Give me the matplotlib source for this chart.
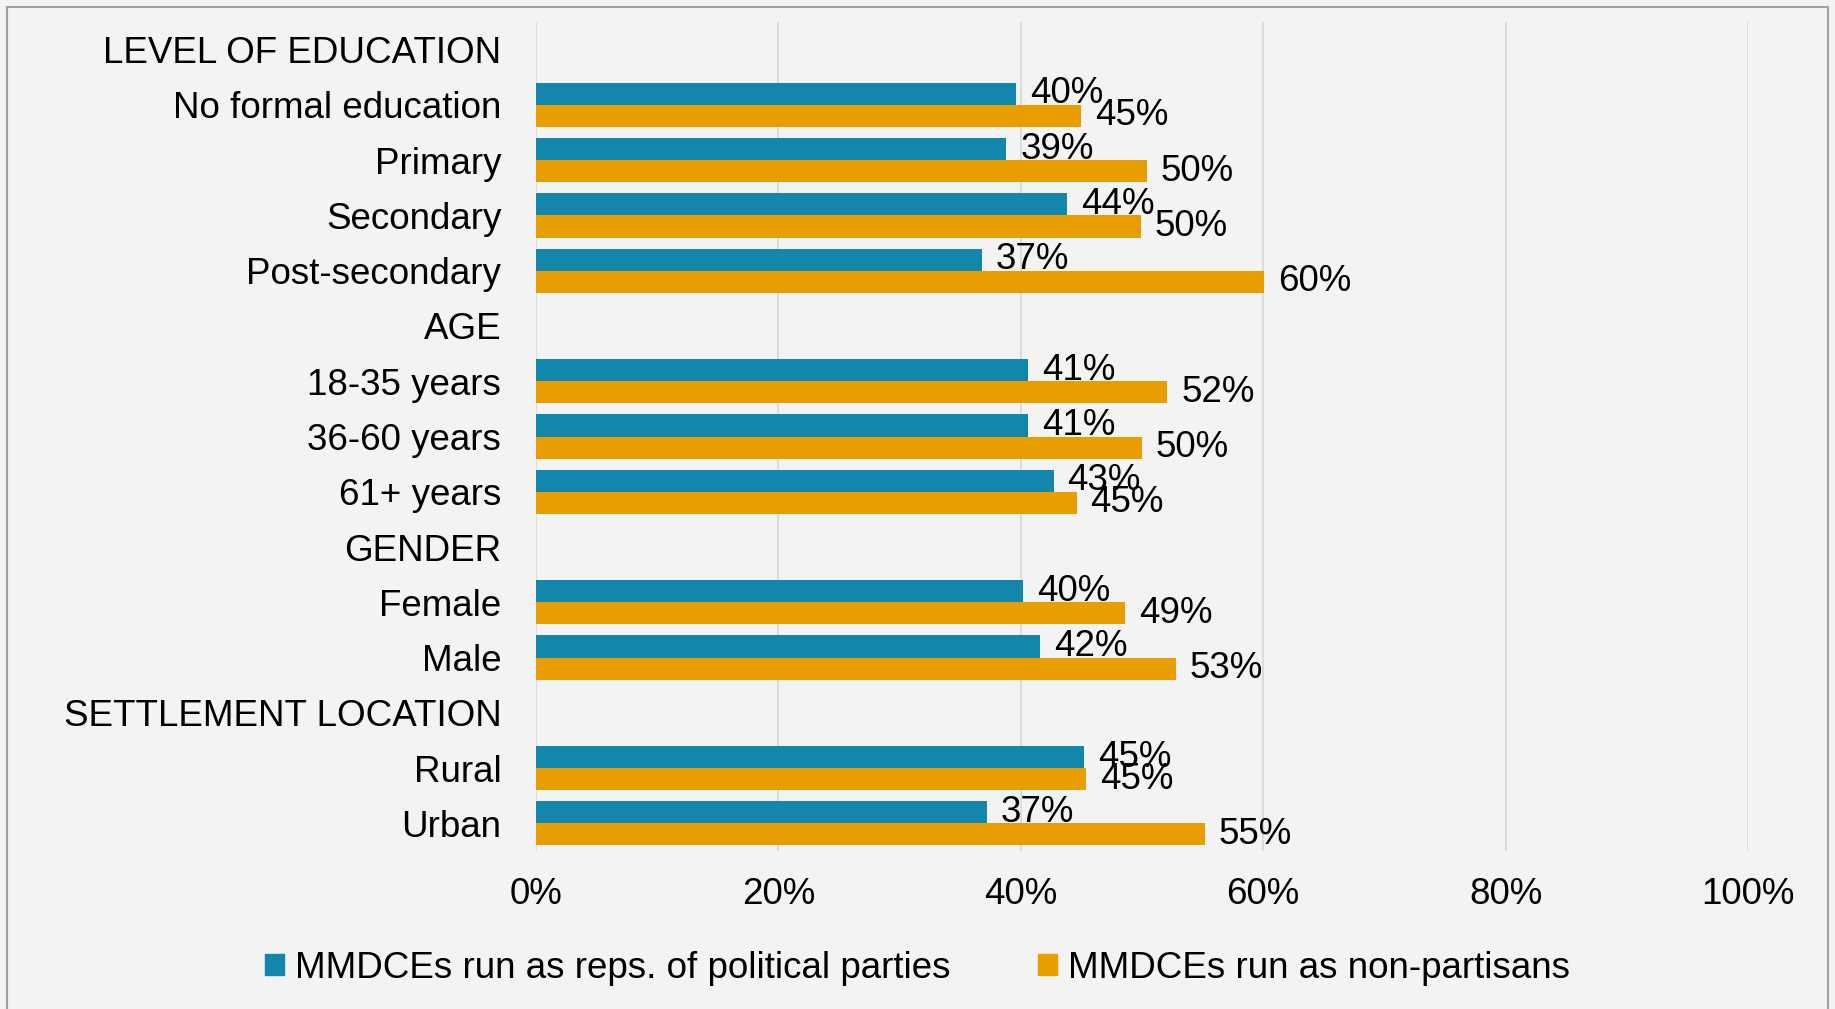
import matplotlib.pyplot as plt
from matplotlib.patches import Rectangle, Patch

plt.rcParams['font.family'] = ['Liberation Sans', 'DejaVu Sans']

rows = ["LEVEL OF EDUCATION", "No formal education", "Primary", "Secondary",
        "Post-secondary", "AGE", "18-35 years", "36-60 years", "61+ years",
        "GENDER", "Female", "Male", "SETTLEMENT LOCATION", "Rural", "Urban"]

# % of respondents; None marks a group header row
party = [None, 39.6, 38.8, 43.8, 36.8, None, 40.6, 40.6, 42.7, None, 40.2, 41.6, None, 45.2, 37.2]
nonpartisan = [None, 45.0, 50.4, 49.9, 60.1, None, 52.1, 50.0, 44.6, None, 48.6, 52.8, None, 45.4, 55.2]

series_names = ["MMDCEs run as reps. of political parties", "MMDCEs run as non-partisans"]
colors = ["#1287ab", "#e89d00"]
xticks = [0, 20, 40, 60, 80, 100]

fs = 26.5

fig = plt.figure(figsize=(18.35, 10.09), dpi=100)
fig.patch.set_facecolor("#f3f3f3")
ax = fig.add_axes([536 / 1835, 1 - 851 / 1009, 1212 / 1835, 829 / 1009])
ax.set_facecolor("none")

h = 0.4
for i, (a, b) in enumerate(zip(party, nonpartisan)):
    if a is None:
        continue
    ax.barh(i - h / 2, a, height=h, color=colors[0])
    ax.barh(i + h / 2, b, height=h, color=colors[1])
    ax.annotate(f"{round(a)}%", (a, i - h / 2), xytext=(10, 0), textcoords="offset points",
                va="center", ha="left", fontsize=fs)
    ax.annotate(f"{round(b)}%", (b, i + h / 2), xytext=(10, 0), textcoords="offset points",
                va="center", ha="left", fontsize=fs)

ax.set_ylim(len(rows) - 0.5, -0.5)
ax.set_xlim(0, 100)
ax.set_yticks(range(len(rows)))
ax.set_yticklabels(rows, fontsize=fs)
ax.set_xticks(xticks)
ax.set_xticklabels([f"{t}%" for t in xticks], fontsize=fs)
ax.tick_params(axis="y", length=0, pad=25)
ax.tick_params(axis="x", length=0, pad=19)
for s in ax.spines.values():
    s.set_visible(False)
ax.grid(axis="x", color="#d9d9d9", linewidth=1.3)
ax.set_axisbelow(True)

handles = [Patch(color=c, label=n) for c, n in zip(colors, series_names)]
fig.legend(handles=handles, loc="center", bbox_to_anchor=(0.5, 1 - 968 / 1009), ncol=2,
           frameon=False, fontsize=fs, handlelength=0.5, handleheight=0.5,
           handletextpad=0.3, columnspacing=2.4)

fig.patches.append(Rectangle((7 / 1835, -0.02), 1821 / 1835, 1.02 - 7 / 1009,
                             transform=fig.transFigure, fill=False,
                             edgecolor="#a0a0a0", linewidth=1.5))

fig.savefig("out.png", dpi=100, facecolor=fig.get_facecolor())
